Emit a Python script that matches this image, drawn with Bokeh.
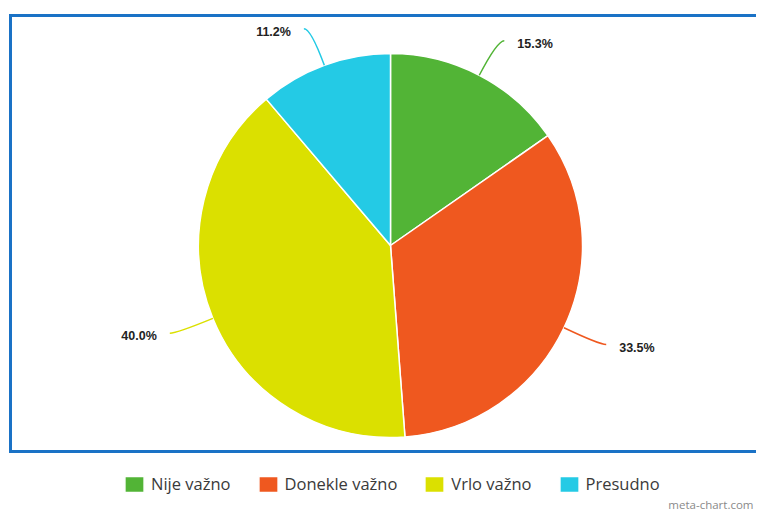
import math
from bokeh.plotting import figure
from bokeh.models import ColumnDataSource, Range1d, Legend, LegendItem
from bokeh.core.properties import value
from bokeh.embed import file_html
from bokeh.resources import INLINE

# ---- data ----
categories = ["Nije važno", "Donekle važno", "Vrlo važno", "Presudno"]
shares = [15.3, 33.5, 40.0, 11.2]
colors = ["#52b436", "#ef581f", "#dbe000", "#24cae5"]
watermark = "meta-chart.com"

# ---- layout constants (picture pixels mapped 1:1 to data units) ----
W, H = 756, 511
CX, CY = 390, H - 245
R = 192
LEAD = 39      # radial length of leader line
HOOK = 7       # horizontal hook of leader line
GAP = 13       # gap from leader end to label

p = figure(width=W, height=H, output_backend="svg", toolbar_location=None,
           x_range=Range1d(0, W), y_range=Range1d(0, H),
           min_border=0, min_border_left=0, min_border_right=0,
           min_border_top=0, min_border_bottom=0)
p.axis.visible = False
p.grid.visible = False
p.outline_line_color = None
p.background_fill_color = "white"
p.border_fill_color = "white"

# border frame (open on the right, running off the page)
bt, bb, bl = H - 15, H - 451, 10
p.multi_line(xs=[[W + 20, bl, bl, W + 20]], ys=[[bt, bt, bb, bb]],
             line_color="#1a72c6", line_width=3, line_join="miter")

total = sum(shares)
starts, ends, mids = [], [], []
cum = 0.0
for v in shares:
    a0 = math.pi / 2 - 2 * math.pi * cum / total
    cum += v
    a1 = math.pi / 2 - 2 * math.pi * cum / total
    starts.append(a0)
    ends.append(a1)
    mids.append((a0 + a1) / 2)

src = ColumnDataSource(dict(cat=categories, start=starts, end=ends, color=colors))
wr = p.wedge(x=CX, y=CY, radius=R, start_angle="start", end_angle="end",
             direction="clock", fill_color="color", line_color="white",
             line_width=1.5, source=src)

# leader lines and labels
x0s, y0s, cxs, cys, x1s, y1s = [], [], [], [], [], []
tx, ty, tt, ta = [], [], [], []
for v, m in zip(shares, mids):
    ux, uy = math.cos(m), math.sin(m)
    sx, sy = CX + R * ux, CY + R * uy
    qx, qy = CX + (R + LEAD) * ux, CY + (R + LEAD) * uy
    sgn = 1 if ux >= 0 else -1
    ex, ey = qx + sgn * HOOK, qy
    x0s.append(sx); y0s.append(sy); cxs.append(qx); cys.append(qy)
    x1s.append(ex); y1s.append(ey)
    tx.append(ex + sgn * GAP)
    ty.append(ey - 3)
    tt.append(f"{v:.1f}%")
    ta.append("left" if sgn > 0 else "right")

p.quadratic(x0=x0s, y0=y0s, x1=x1s, y1=y1s, cx=cxs, cy=cys,
            line_color=colors, line_width=1.5)

lsrc = ColumnDataSource(dict(x=tx, y=ty, t=tt, a=ta))
p.text(x="x", y="y", text="t", source=lsrc, text_align="a",
       text_baseline="middle", text_font=value("Liberation Sans"),
       text_font_style="bold", text_font_size="12.5px", text_color="#222222")

# watermark
p.text(x=[W - 3], y=[H - 504], text=[watermark], text_align="right",
       text_baseline="middle",
       text_font=value("Open Sans"), text_font_size="11.5px", text_color="#8a8a8a")

# legend
items = [LegendItem(label=c, renderers=[wr], index=i) for i, c in enumerate(categories)]
leg = Legend(items=items, location=(122, 16), orientation="horizontal",
             glyph_width=24, glyph_height=20, label_standoff=5, spacing=25,
             padding=0, margin=0, border_line_color=None, background_fill_alpha=0,
             label_text_font="Open Sans", label_text_font_size="16.5px",
             label_text_color="#3a3a3a", label_height=20)
p.add_layout(leg, "center")

open("out.html", "w").write(file_html(p, INLINE))
